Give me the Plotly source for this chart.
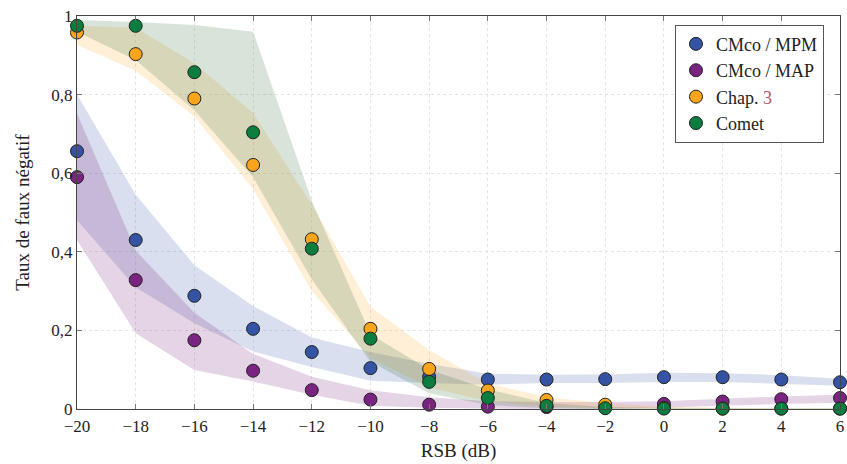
import plotly.graph_objects as go

rsb = [-20, -18, -16, -14, -12, -10, -8, -6, -4, -2, 0, 2, 4, 6]

# valeurs médianes
mpm = [0.656, 0.43, 0.288, 0.204, 0.145, 0.104, 0.082, 0.075, 0.075, 0.076, 0.081, 0.081, 0.075, 0.068]
map_ = [0.59, 0.328, 0.175, 0.0975, 0.048, 0.024, 0.011, 0.006, 0.005, 0.004, 0.013, 0.019, 0.025, 0.028]
chap3 = [0.958, 0.903, 0.79, 0.621, 0.432, 0.204, 0.102, 0.047, 0.023, 0.011, 0.003, 0.001, 0.001, 0.001]
comet = [0.975, 0.975, 0.857, 0.704, 0.408, 0.179, 0.069, 0.028, 0.008, 0.002, 0.001, 0.001, 0.001, 0.001]

# bandes (haut / bas)
mpm_hi = [0.80, 0.545, 0.366, 0.262, 0.182, 0.145, 0.115, 0.09, 0.087, 0.088, 0.092, 0.091, 0.086, 0.077]
mpm_lo = [0.48, 0.31, 0.218, 0.146, 0.107, 0.072, 0.066, 0.062, 0.066, 0.066, 0.069, 0.069, 0.064, 0.059]
map_hi = [0.752, 0.403, 0.245, 0.14, 0.082, 0.048, 0.03, 0.02, 0.018, 0.018, 0.02, 0.026, 0.032, 0.036]
map_lo = [0.43, 0.193, 0.099, 0.07, 0.036, 0.008, 0.003, 0.001, 0.0, 0.0, 0.004, 0.008, 0.013, 0.016]
chap3_hi = [0.975, 0.97, 0.88, 0.753, 0.52, 0.26, 0.15, 0.065, 0.03, 0.015, 0.006, 0.003, 0.002, 0.002]
chap3_lo = [0.926, 0.861, 0.744, 0.56, 0.30, 0.13, 0.055, 0.02, 0.006, 0.002, 0.0, 0.0, 0.0, 0.0]
comet_hi = [0.99, 0.985, 0.977, 0.96, 0.53, 0.19, 0.10, 0.05, 0.015, 0.005, 0.003, 0.002, 0.002, 0.002]
comet_lo = [0.96, 0.888, 0.76, 0.59, 0.33, 0.12, 0.04, 0.01, 0.002, 0.0, 0.0, 0.0, 0.0, 0.0]

x_ticks = [-20, -18, -16, -14, -12, -10, -8, -6, -4, -2, 0, 2, 4, 6]
x_labels = ["\u221220", "\u221218", "\u221216", "\u221214", "\u221212", "\u221210", "\u22128",
            "\u22126", "\u22124", "\u22122", "0", "2", "4", "6"]
y_ticks = [0, 0.2, 0.4, 0.6, 0.8, 1]
y_labels = ["0", "0,2", "0,4", "0,6", "0,8", "1"]

series = [
    ("CMco / MPM", mpm, mpm_hi, mpm_lo, "#3453a4", "rgba(52,83,164,0.19)"),
    ("CMco / MAP", map_, map_hi, map_lo, "#7b2381", "rgba(123,35,129,0.2)"),
    ("Chap. <span style='color:#b4506e'>3</span>", chap3, chap3_hi, chap3_lo, "#f9a51b", "rgba(249,165,27,0.18)"),
    ("Comet", comet, comet_hi, comet_lo, "#0b7d3e", "rgba(40,100,50,0.18)"),
]

fig = go.Figure()

# bandes
for name, y, hi, lo, col, fill in series:
    fig.add_trace(go.Scatter(
        x=rsb + rsb[::-1],
        y=hi + lo[::-1],
        fill='toself',
        fillcolor=fill,
        line=dict(width=0),
        mode='lines',
        hoverinfo='skip',
        showlegend=False,
    ))

# points
for name, y, hi, lo, col, fill in series:
    fig.add_trace(go.Scatter(
        x=rsb,
        y=y,
        mode='markers',
        marker=dict(color=col, size=13, line=dict(color='#222', width=1)),
        name=name,
        cliponaxis=False,
    ))

font_fam = "Liberation Serif"

fig.update_layout(
    width=847,
    height=464,
    paper_bgcolor='white',
    plot_bgcolor='white',
    margin=dict(l=77, r=7, t=16, b=55, autoexpand=False),
    font=dict(family=font_fam, size=17, color='#222'),
    legend=dict(
        x=0.979, y=0.978, xanchor='right', yanchor='top',
        bordercolor='#555', borderwidth=1, bgcolor='white',
        font=dict(family=font_fam, size=18),
        itemwidth=30,
        tracegroupgap=0,
    ),
    xaxis=dict(
        range=[-20, 6],
        tickvals=x_ticks, ticktext=x_labels,
        ticks='inside', ticklen=5, tickcolor='#777',
        showline=True, linecolor='#444', linewidth=1, mirror='ticks',
        showgrid=True, gridcolor='#e4e4e4', griddash='dot', gridwidth=1,
        zeroline=False, automargin=False,
        title=dict(text="RSB (dB)", font=dict(size=19), standoff=8),
        tickfont=dict(size=17),
        ticklabelstandoff=2,
    ),
    yaxis=dict(
        range=[0, 1],
        tickvals=y_ticks, ticktext=y_labels,
        ticks='inside', ticklen=5, tickcolor='#777',
        showline=True, linecolor='#444', linewidth=1, mirror='ticks',
        showgrid=True, gridcolor='#e4e4e4', griddash='dot', gridwidth=1,
        zeroline=False, automargin=False,
        title=dict(text="Taux de faux négatif", font=dict(size=19), standoff=16),
        tickfont=dict(size=17),
    ),
)

fig.write_html("out.html", config={"displayModeBar": False},
               post_script="document.body.style.margin='0px';")
